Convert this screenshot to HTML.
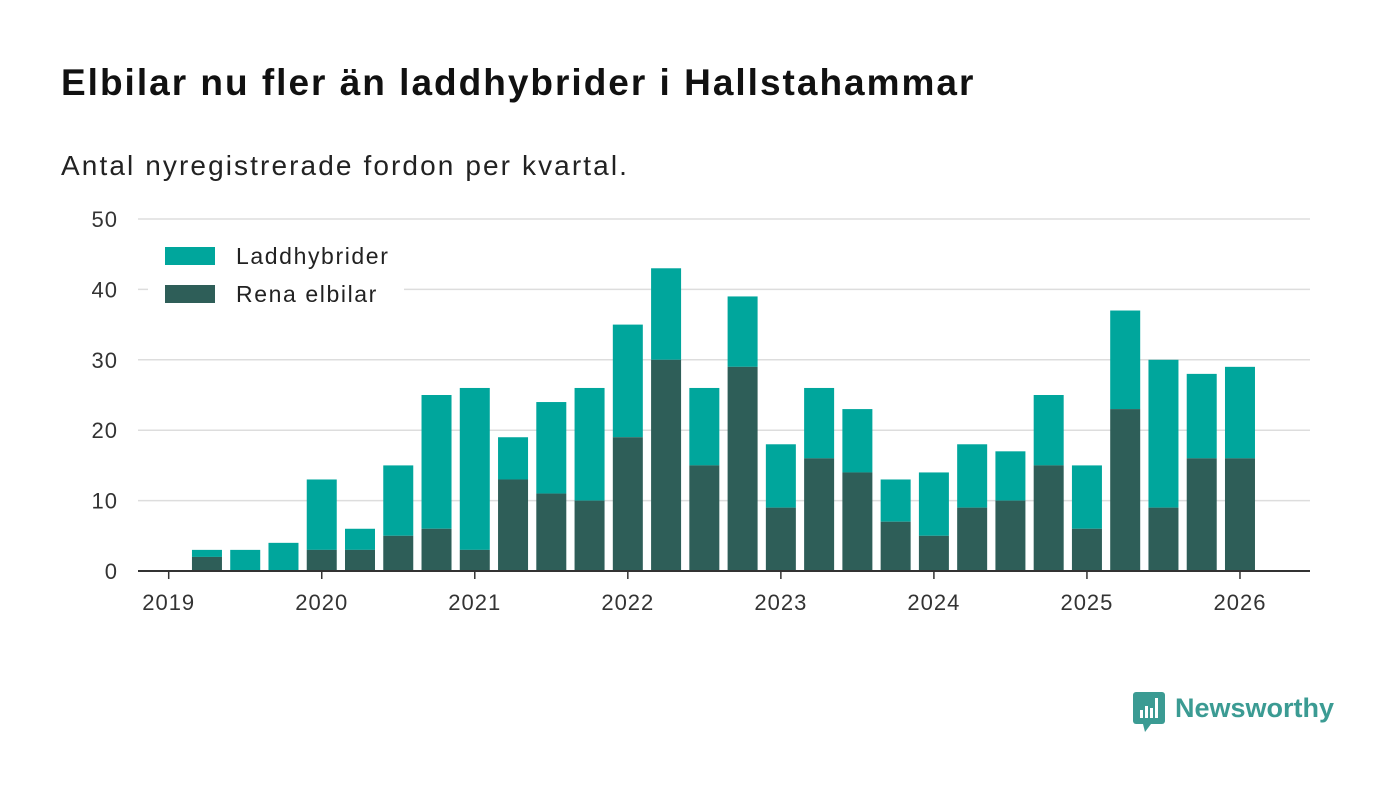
<!DOCTYPE html>
<html><head><meta charset="utf-8"><style>
body{margin:0;background:#fff;font-family:"Liberation Sans",sans-serif;}
#wrap{position:relative;width:1400px;height:793px;overflow:hidden;}
h1{position:absolute;left:61px;top:62px;margin:0;font-size:37px;font-weight:bold;color:#111;letter-spacing:2px;}
.sub{position:absolute;left:61px;top:150px;font-size:28px;color:#222;letter-spacing:2.1px;}
</style></head><body>
<div id="wrap">
<h1>Elbilar nu fler än laddhybrider i Hallstahammar</h1>
<div class="sub">Antal nyregistrerade fordon per kvartal.</div>
<svg id="chart" width="1400" height="793" style="position:absolute;left:0;top:0"></svg>
<div style="position:absolute;left:1133px;top:692px;display:flex;align-items:center;">
<svg width="34" height="42"><rect x="0" y="0" width="32" height="32" rx="3" fill="#3b9b93"/><polygon points="10,32 18,32 12,40" fill="#3b9b93"/><rect x="7" y="18" width="3" height="8" fill="#fff"/><rect x="12" y="14" width="3" height="12" fill="#fff"/><rect x="17" y="16" width="3" height="10" fill="#fff"/><rect x="22" y="6" width="3" height="20" fill="#fff"/></svg>
<span style="font-size:27px;font-weight:bold;color:#3b9b93;margin-left:8px;margin-top:-10px">Newsworthy</span></div>
</div>
<script>
const quarters=[1,2,3,4,5,6,7,8,9,10,11,12,13,14,15,16,17,18,19,20,21,22,23,24,25,26,27,28];
const totals=[3,3,4,13,6,15,25,26,19,24,26,35,43,26,39,18,26,23,13,14,18,17,25,15,37,30,28,29];
const elbilar=[2,0,0,3,3,5,6,3,13,11,10,19,30,15,29,9,16,14,7,5,9,10,15,6,23,9,16,16];
const yTicks=[0,10,20,30,40,50];
const xTicks=["2019","2020","2021","2022","2023","2024","2025","2026"];
const NS="http://www.w3.org/2000/svg";
const svg=document.getElementById('chart');
const x0=168.7,pq=38.26,y0=571,py=7.04;
const X=q=>x0+q*pq;
const Y=v=>y0-v*py;
function mk(t,a){const e=document.createElementNS(NS,t);for(const k in a)e.setAttribute(k,a[k]);svg.appendChild(e);return e;}
yTicks.forEach(v=>{
 if(v>0){const g=mk('line',{x1:138,x2:1310,y1:Y(v),y2:Y(v),stroke:'#ddd','stroke-width':1.5});
 
 }
 const t=mk('text',{x:118,y:Y(v)+8,'text-anchor':'end','font-size':22,fill:'#333','font-family':'Liberation Sans, sans-serif','letter-spacing':1});
 t.textContent=v;
 
 
});
quarters.forEach((q,i)=>{
 const w=30,cx=X(q);
 const r1=mk('rect',{x:cx-w/2,y:Y(totals[i]),width:w,height:(totals[i]-elbilar[i])*py,fill:'#00a69c'});
 
 
 const r2=mk('rect',{x:cx-w/2,y:Y(elbilar[i]),width:w,height:elbilar[i]*py,fill:'#2e5e58'});
 
 
});
const ax=mk('line',{x1:138,x2:1310,y1:y0,y2:y0,stroke:'#333','stroke-width':2});


xTicks.forEach((lab,i)=>{
 const x=X(i*4);
 const tk=mk('line',{x1:x,x2:x,y1:y0,y2:y0+8,stroke:'#333','stroke-width':1.5});
 
 
 const t=mk('text',{x:x,y:610,'text-anchor':'middle','font-size':22,fill:'#333','font-family':'Liberation Sans, sans-serif','letter-spacing':1});
 t.textContent=lab;
 
 
});
const bg=mk('rect',{x:148,y:236,width:256,height:80,fill:'#fff'});


[['Laddhybrider','#00a69c',256],['Rena elbilar','#2e5e58',294]].forEach(([n,c,y])=>{
 const r=mk('rect',{x:165,y:y-9,width:50,height:18,fill:c});
 
 
 const t=mk('text',{x:236,y:y+8,'font-size':23,fill:'#222','font-family':'Liberation Sans, sans-serif','letter-spacing':1.6});
 t.textContent=n;
 
 
});
</script>
</body></html>
